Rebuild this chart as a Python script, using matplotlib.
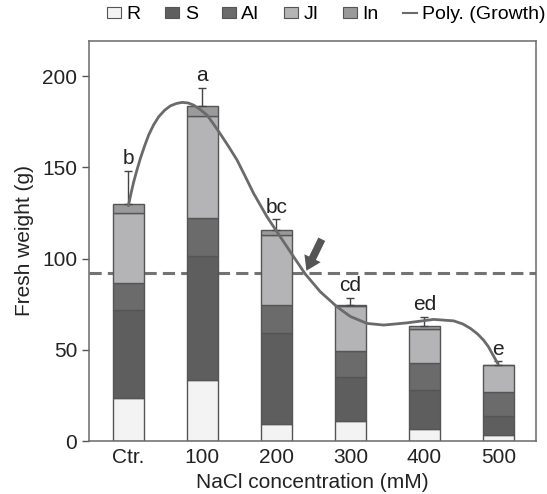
import numpy as np
import matplotlib.pyplot as plt
from matplotlib.patches import Patch
from matplotlib.lines import Line2D

plt.rcParams['font.family'] = ['Liberation Sans', 'DejaVu Sans']

# data
categories = ["Ctr.", "100", "200", "300", "400", "500"]
R = [23.5, 33.5, 9.3, 11.0, 6.8, 3.1]
S = [48.5, 68.2, 50.1, 24.0, 21.0, 10.6]
AI = [14.6, 20.7, 15.0, 14.3, 15.1, 13.3]
JI = [38.5, 55.7, 38.4, 24.9, 18.5, 14.6]
In = [4.9, 5.5, 3.0, 0.3, 1.8, 0.3]
err_up = [18.0, 9.8, 5.7, 4.1, 4.9, 1.8]
letters = ["b", "a", "bc", "cd", "ed", "e"]
threshold = 92

# trend line ("Poly. (Growth)")
curve_x = [0.0, 0.036, 0.072, 0.117, 0.162, 0.218, 0.274, 0.340, 0.409, 0.490,
           0.568, 0.650, 0.726, 0.805, 0.882, 0.970, 1.064, 1.150, 1.243, 1.355,
           1.469, 1.580, 1.693, 1.874, 2.054, 2.234, 2.392, 2.595, 2.820, 3.0,
           3.226, 3.450, 3.766, 4.126, 4.396, 4.520, 4.622, 4.720, 4.801, 4.865,
           4.915, 4.991]
curve_y = [129.0, 135.8, 142.1, 148.7, 154.9, 161.6, 167.7, 173.2, 177.7, 181.3,
           183.7, 185.0, 185.6, 185.3, 184.1, 181.7, 178.6, 173.8, 168.3, 161.4,
           154.0, 145.0, 135.7, 122.9, 111.9, 101.0, 91.5, 81.8, 73.6, 68.3,
           64.5, 63.6, 64.8, 66.7, 65.9, 64.2, 61.8, 58.7, 55.3, 51.8,
           48.1, 42.6]

labels = ["R", "S", "AI", "JI", "In"]
colors = ["#f2f3f2", "#5e5e5e", "#6b6b6b", "#b4b4b7", "#9a9a9c"]
edge = "#555555"
fs = 15

fig = plt.figure(figsize=(5.47, 4.94), dpi=100)
ax = fig.add_axes([0.163, 0.107, 0.817, 0.811])

x = np.arange(len(categories))
bottom = np.zeros(len(categories))
for vals, lab, col in zip([R, S, AI, JI, In], labels, colors):
    ax.bar(x, vals, 0.42, bottom=bottom, color=col, edgecolor=edge,
           linewidth=1.0, zorder=2)
    bottom += np.array(vals)

ax.errorbar(x, bottom, yerr=[np.zeros(len(x)), err_up], fmt="none",
            ecolor="#444444", elinewidth=1.0, capsize=3, capthick=1.0, zorder=3)

for xi, top, e, let in zip(x, bottom, err_up, letters):
    ax.annotate(let, (xi, top + e), xytext=(0, 2), textcoords="offset points",
                ha="center", va="bottom", fontsize=fs, color="#222222")

ax.axhline(threshold, color="#737373", lw=2.2, dashes=(4, 2), zorder=1)
ax.plot(curve_x, curve_y, color="#6a6a6a", lw=2.0, zorder=4,
        solid_capstyle="round", solid_joinstyle="round")

ax.annotate("", xy=(2.39, threshold), xytext=(2.63, 112),
            arrowprops=dict(arrowstyle="simple,head_width=1.3,head_length=1.0,tail_width=0.55",
                            color="#555555", lw=0), zorder=5)

ax.set_xlim(-0.53, 5.51)
ax.set_ylim(0, 219.5)
ax.set_yticks([0, 50, 100, 150, 200])
ax.set_xticks(x)
ax.set_xticklabels(categories)
ax.tick_params(axis="x", length=0, labelsize=fs, pad=5, colors="#222222")
ax.tick_params(axis="y", length=5, width=1.0, labelsize=fs, color="#555555",
               labelcolor="#222222")
for sp in ax.spines.values():
    sp.set_color("#6a6a6a")
    sp.set_linewidth(1.1)

ax.set_ylabel("Fresh weight (g)", fontsize=fs, color="#222222", labelpad=6)
ax.set_xlabel("NaCl concentration (mM)", fontsize=fs, color="#222222", labelpad=4)

handles = [Patch(facecolor=c, edgecolor=edge, linewidth=0.8) for c in colors]
handles.append(Line2D([], [], color="#6a6a6a", lw=1.5))
fig.legend(handles, labels + ["Poly. (Growth)"], loc="center right",
           bbox_to_anchor=(0.998, 0.97), ncol=6, frameon=False, fontsize=14,
           handlelength=0.7, handleheight=0.5, handletextpad=0.3,
           columnspacing=1.25, borderaxespad=0, borderpad=0)

fig.savefig("out.png", dpi=100)
